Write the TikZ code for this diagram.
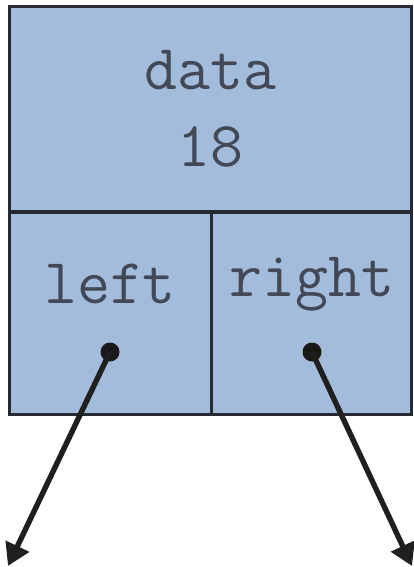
\documentclass[tikz,border=0pt]{standalone}
\usepackage{fontspec}
\usetikzlibrary{arrows.meta, positioning}

\definecolor{cellfill}{RGB}{164,188,220}
\definecolor{cellline}{RGB}{38,42,50}
\definecolor{celltext}{RGB}{66,72,86}

\begin{document}
\begin{tikzpicture}[
    x=0.5pt, y=-0.5pt,
    % --- Node styles ---
    cell/.style = {rectangle, draw=cellline, line width=1.4pt, fill=cellfill,
        align=center, text=celltext, inner sep=0pt,
        font=\ttfamily\fontsize{32}{38.5}\selectfont},
    label/.style = {text=celltext, font=\ttfamily\fontsize{32}{38.5}\selectfont},
    ptrdot/.style = {circle, fill=black!90, minimum size=9.5pt, inner sep=0pt},
    % --- Arrow style ---
    arrow/.style = {line width=2.7pt, draw=black!88,
        -{Triangle[length=11pt, width=12.5pt]}}
]
\useasboundingbox (0,0) rectangle (413,567);

% ==================== CELLS ====================
\node[cell, anchor=north west, minimum width=201pt, minimum height=102.5pt] (datacell)
    at (8,5) {data\\18};

\node[cell, below right=0pt and 0pt of datacell.south west,
    minimum width=101pt, minimum height=101pt,
    yshift=0.7pt] (leftcell) {};
\node[cell, below left=0pt and 0pt of datacell.south east,
    minimum width=100pt, minimum height=101pt,
    yshift=0.7pt] (rightcell) {};

\node[label] (leftlabel) at (110,284) {left};
\node[label] (rightlabel) at (312,284) {right};

% ==================== POINTERS ====================
\node[ptrdot] (leftdot) at (110,352) {};
\node[ptrdot] (rightdot) at (312,352) {};

\coordinate (leftend) at (8,566);
\coordinate (rightend) at (412,566);

% ==================== ARROWS ====================
\draw[arrow] (leftdot.center) -- (leftend);
\draw[arrow] (rightdot.center) -- (rightend);

\end{tikzpicture}
\end{document}
